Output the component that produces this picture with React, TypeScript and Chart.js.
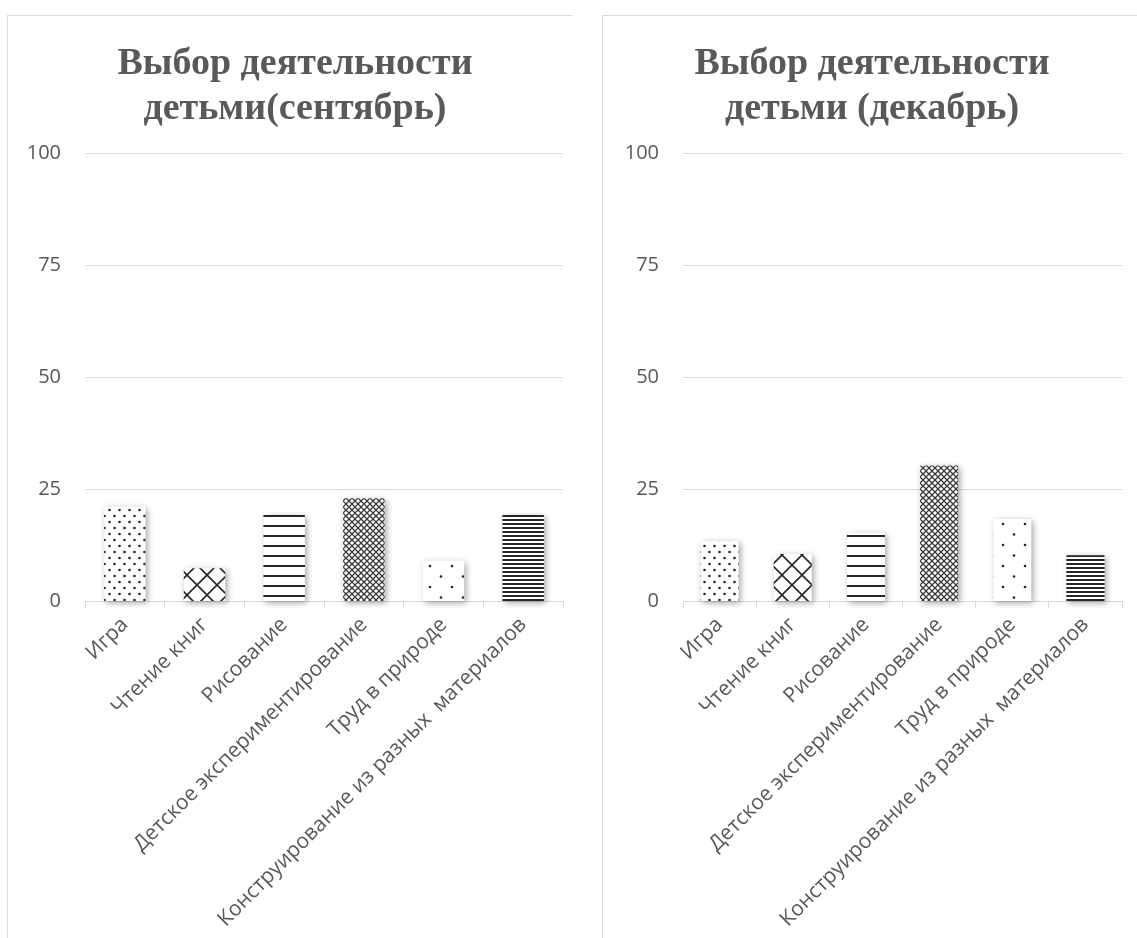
import React, { useEffect, useRef } from "react";
import { Chart, registerables } from "chart.js";

Chart.register(...registerables);

const categories = [
  "Игра",
  "Чтение книг",
  "Рисование",
  "Детское экспериментирование",
  "Труд в природе",
  "Конструирование из разных  материалов",
];

const septemberValues = [21.2, 7.4, 19.3, 23.0, 9.1, 19.3];
const decemberValues = [13.5, 10.6, 15.3, 30.3, 18.4, 10.3];

const yMin = 0;
const yMax = 100;
const yStep = 25;

const septemberTitle = ["Выбор деятельности", "детьми(сентябрь)"];
const decemberTitle = ["Выбор деятельности", "детьми (декабрь)"];

const patternKinds = ["dots", "bigDiamond", "wideLines", "smallDiamond", "sparseDots", "denseLines"];

const INK = "#262626";

function makePattern(kind: string): CanvasPattern | string {
  const c = document.createElement("canvas");
  let w = 10;
  let h = 10;
  if (kind === "dots") { w = 10; h = 12; }
  if (kind === "bigDiamond") { w = 20; h = 20; }
  if (kind === "wideLines") { w = 4; h = 10; }
  if (kind === "smallDiamond") { w = 6; h = 6; }
  if (kind === "sparseDots") { w = 22; h = 21; }
  if (kind === "denseLines") { w = 4; h = 4; }
  c.width = w;
  c.height = h;
  const ctx = c.getContext("2d");
  if (!ctx) return "#fff";
  ctx.fillStyle = "#ffffff";
  ctx.fillRect(0, 0, w, h);
  ctx.fillStyle = INK;
  ctx.strokeStyle = INK;
  const dot = (x: number, y: number, r: number) => {
    ctx.beginPath();
    ctx.arc(x, y, r, 0, Math.PI * 2);
    ctx.fill();
  };
  if (kind === "dots") {
    dot(2.5, 3, 1.3);
    dot(7.5, 9, 1.3);
  } else if (kind === "bigDiamond") {
    ctx.lineWidth = 1.6;
    ctx.beginPath();
    ctx.moveTo(-2, -2);
    ctx.lineTo(w + 2, h + 2);
    ctx.moveTo(w + 2, -2);
    ctx.lineTo(-2, h + 2);
    ctx.stroke();
  } else if (kind === "wideLines") {
    ctx.fillRect(0, 0, w, 2);
  } else if (kind === "smallDiamond") {
    ctx.strokeStyle = "#3a3a3a";
    ctx.lineWidth = 1.3;
    ctx.beginPath();
    ctx.moveTo(-1, -1);
    ctx.lineTo(w + 1, h + 1);
    ctx.moveTo(w + 1, -1);
    ctx.lineTo(-1, h + 1);
    ctx.stroke();
  } else if (kind === "sparseDots") {
    dot(5, 5, 1.3);
    dot(16, 15.5, 1.3);
  } else if (kind === "denseLines") {
    ctx.fillRect(0, 0, w, 2);
  }
  const p = ctx.createPattern(c, "repeat");
  return p || "#fff";
}

const shadowPlugin = {
  id: "barShadow",
  beforeDatasetsDraw(chart: any) {
    const ctx = chart.ctx;
    ctx.save();
    ctx.shadowColor = "rgba(0,0,0,0.35)";
    ctx.shadowBlur = 6;
    ctx.shadowOffsetX = 2;
    ctx.shadowOffsetY = 2;
  },
  afterDatasetsDraw(chart: any) {
    chart.ctx.restore();
  },
};

const labelFont = "'Open Sans', 'DejaVu Sans', sans-serif";
const titleFont = "'Liberation Serif', 'Times New Roman', serif";

function BarChart(props: {
  values: number[];
  title: string[];
  padLeft: number;
  padRight: number;
  yWidth: number;
}) {
  const ref = useRef<HTMLCanvasElement | null>(null);
  useEffect(() => {
    if (!ref.current) return;
    const patterns = patternKinds.map((k) => makePattern(k));
    const chart = new Chart(ref.current, {
      type: "bar",
      data: {
        labels: categories,
        datasets: [
          {
            data: props.values,
            backgroundColor: patterns as any,
            borderWidth: 0,
            categoryPercentage: 0.52,
            barPercentage: 1,
            clip: false as any,
          },
        ],
      },
      plugins: [shadowPlugin],
      options: {
        animation: false,
        responsive: true,
        maintainAspectRatio: false,
        layout: {
          padding: { left: props.padLeft, right: props.padRight, top: 0, bottom: 2 },
        },
        plugins: {
          legend: { display: false },
          tooltip: { enabled: false },
          title: {
            display: true,
            text: props.title,
            color: "#595959",
            font: { family: titleFont, size: 38, weight: "bold", lineHeight: 1.2 },
            padding: { top: 26, bottom: 21 },
          },
        },
        scales: {
          x: {
            afterFit: (scale: any) => {
              scale.paddingLeft = 0;
              scale.paddingRight = 0;
            },
            grid: {
              display: true,
              offset: true,
              drawOnChartArea: false,
              drawTicks: true,
              tickLength: 7,
              color: "#d9d9d9",
            },
            border: { display: true, color: "#d9d9d9" },
            ticks: {
              autoSkip: false,
              minRotation: 45,
              maxRotation: 45,
              color: "#595959",
              font: { family: labelFont, size: 21 },
              padding: 4,
            },
          },
          y: {
            min: yMin,
            max: yMax,
            afterFit: (scale: any) => {
              scale.width = props.yWidth;
            },
            grid: { color: "#d9d9d9", drawTicks: false, lineWidth: 1 },
            border: { display: false },
            ticks: {
              stepSize: yStep,
              color: "#595959",
              font: { family: labelFont, size: 20 },
              padding: 24,
            },
          },
        },
      },
    });
    return () => chart.destroy();
  }, []);
  return <canvas ref={ref} />;
}

export default function App() {
  return (
    <div
      style={{
        position: "absolute",
        left: 0,
        top: 0,
        width: 1137,
        height: 938,
        overflow: "hidden",
        background: "#fff",
      }}
    >
      <div
        style={{
          position: "absolute",
          left: 7,
          top: 15,
          width: 564,
          height: 940,
          borderLeft: "1px solid #d9d9d9",
          borderTop: "1px solid #d9d9d9",
        }}
      />
      <div
        style={{
          position: "absolute",
          left: 602,
          top: 15,
          width: 600,
          height: 940,
          borderLeft: "1px solid #d9d9d9",
          borderTop: "1px solid #d9d9d9",
        }}
      />
      <div style={{ position: "absolute", left: 7, top: 15, width: 582, height: 923 }}>
        <BarChart values={septemberValues} title={septemberTitle} padLeft={20} padRight={26} yWidth={58} />
      </div>
      <div style={{ position: "absolute", left: 602, top: 15, width: 546, height: 923 }}>
        <BarChart values={decemberValues} title={decemberTitle} padLeft={20} padRight={26} yWidth={61} />
      </div>
    </div>
  );
}
